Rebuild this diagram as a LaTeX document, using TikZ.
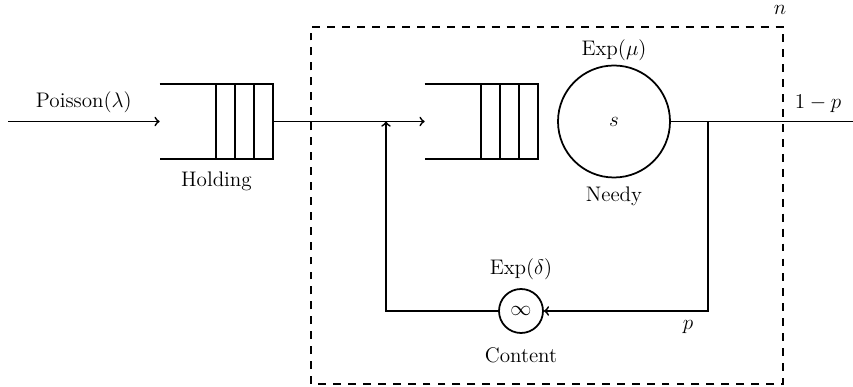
\documentclass[tikz,border=0pt]{standalone}
\usepackage{mathtools}
\usetikzlibrary{positioning}

\tikzset{
	queue/.style={minimum width=2.26cm, minimum height=1.5cm, inner sep=0pt},
	server/.style={circle, draw, line width=1pt, inner sep=0pt},
	flow/.style={line width=1pt},
}

\begin{document}
\begin{tikzpicture}[font=\large]
		\useasboundingbox (0,0) rectangle (17.06,7.74);
		% holding queue
		\node[queue] (hold) at (4.33,5.31) {};
		\draw[flow] (hold.north west) -- (hold.north east) -- (hold.south east) -- (hold.south west);
		\foreach \d in {0.38,0.76,1.14}
			\draw[flow] ([xshift=-\d cm]hold.north east) -- ([xshift=-\d cm]hold.south east);
		\node[below=0.12cm of hold] (holdlbl) {Holding};
		% system
		\draw[flow, dash pattern=on 4.5pt off 4pt] (6.22,0.06) rectangle (15.66,7.2);
		\node (nlbl) at (15.6,7.54) {$n$};
		\node[queue] (wait) at (9.63,5.31) {};
		\draw[flow] (wait.north west) -- (wait.north east) -- (wait.south east) -- (wait.south west);
		\foreach \d in {0.38,0.76,1.14}
			\draw[flow] ([xshift=-\d cm]wait.north east) -- ([xshift=-\d cm]wait.south east);
		\node[server, minimum size=2.24cm] (needy) at (12.28,5.31) {$s$};
		\node[above=-0.05cm of needy] (mulbl) {Exp($\mu$)};
		\node[below=0.05cm of needy] (needylbl) {Needy};
		\node[server, minimum size=0.88cm] (content) at (10.42,1.52) {$\infty$};
		\node[above=0.05cm of content] (deltalbl) {Exp($\delta$)};
		\node[below=0.15cm of content] (contentlbl) {Content};
		% flows
		\coordinate (src) at (0.16,5.31);
		\coordinate (merge) at (7.72,5.31);
		\coordinate (split) at (14.16,5.31);
		\coordinate (out) at (17.2,5.31);
		\draw[->, flow] (src) -- (hold.west) node[midway, above=1pt] {Poisson($\lambda$)};
		\draw[->, flow] (hold.east) -- (wait.west);
		\draw[flow] (needy) -- (split);
		\draw[->, flow] (split) -- (out);
		\node (outlbl) at (16.36,5.66) {$1-p$};
		\draw[->, flow] (split) |- (content);
		\node (plbl) at (13.76,1.2) {$p$};
		\draw[->, flow] (content) -| (merge);
\end{tikzpicture}
\end{document}
